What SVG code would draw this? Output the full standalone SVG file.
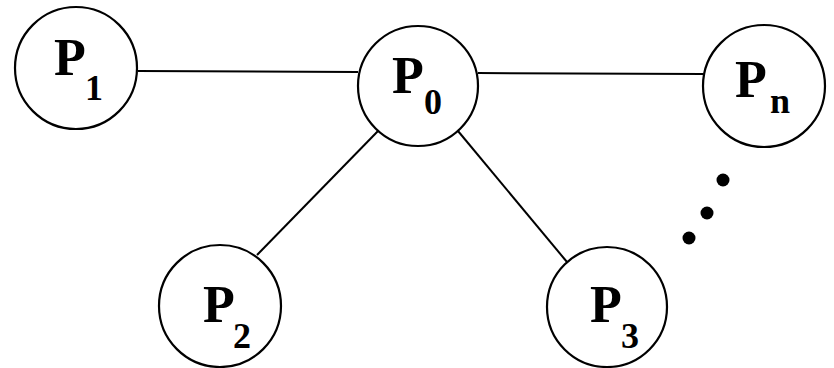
<svg xmlns="http://www.w3.org/2000/svg" width="834" height="368" viewBox="0 0 834 368">
  <style>
    .node circle { fill: none; stroke: #000; stroke-width: 2.2; }
    .edge { stroke: #000; stroke-width: 2; fill: none; }
    .lbl { font-family: "Liberation Serif", "Times New Roman", serif; font-weight: bold; fill: #000; }
    .p { font-size: 52px; }
    .sub { font-size: 36px; }
    .dot { fill: #000; }
  </style>
  <rect width="834" height="368" fill="#fff"/>

  <g id="connectors">
    <line class="edge" x1="138" y1="71" x2="358" y2="72"/>
    <line class="edge" x1="478" y1="73" x2="703" y2="74"/>
    <line class="edge" x1="378" y1="131" x2="257" y2="255"/>
    <line class="edge" x1="458" y1="131" x2="567" y2="262"/>
  </g>

  <g id="P1" class="node">
    <circle cx="76" cy="68" r="61"/>
    <text class="lbl p" x="54" y="75">P</text>
    <text class="lbl sub" x="85" y="100">1</text>
  </g>

  <g id="P0" class="node">
    <circle cx="418" cy="86" r="60"/>
    <text class="lbl p" x="392" y="93">P</text>
    <text class="lbl sub" x="424" y="114">0</text>
  </g>

  <g id="Pn" class="node">
    <circle cx="764" cy="86" r="61"/>
    <text class="lbl p" x="735" y="97">P</text>
    <text class="lbl sub" x="770" y="113">n</text>
  </g>

  <g id="P2" class="node">
    <circle cx="220" cy="306" r="61"/>
    <text class="lbl p" x="203" y="322">P</text>
    <text class="lbl sub" x="233" y="348">2</text>
  </g>

  <g id="P3" class="node">
    <circle cx="607" cy="307" r="60"/>
    <text class="lbl p" x="590" y="322">P</text>
    <text class="lbl sub" x="621" y="348">3</text>
  </g>

  <g id="ellipsis">
    <circle class="dot" cx="723" cy="180" r="6.5"/>
    <circle class="dot" cx="707" cy="213" r="6.5"/>
    <circle class="dot" cx="689" cy="238" r="6.5"/>
  </g>
</svg>
